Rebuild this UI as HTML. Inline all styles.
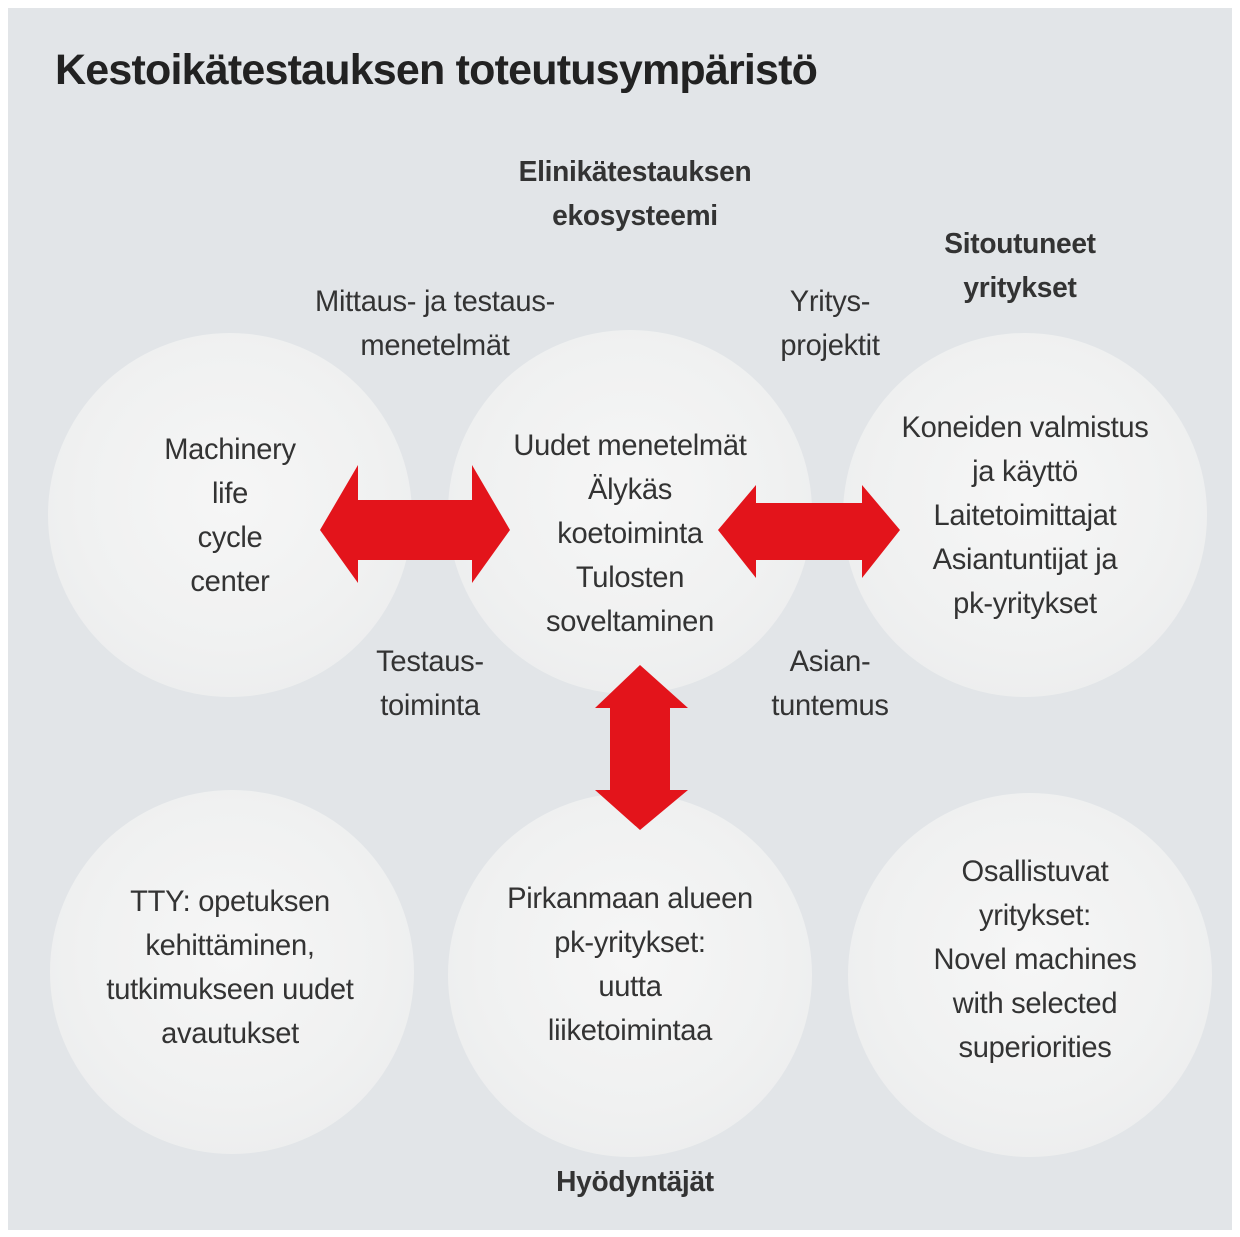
<!DOCTYPE html>
<html><head><meta charset="utf-8"><style>
body{margin:0;width:1240px;height:1237px;background:#fff;overflow:hidden}
#bg{position:absolute;left:8px;top:8px;width:1224px;height:1222px;background:#e2e5e8}
.c{position:absolute;width:364px;height:364px;border-radius:50%;background:radial-gradient(circle at 50% 45%,#f6f6f6 0%,#f0f1f1 55%,#e9eaeb 100%)}
.t{position:absolute;font-family:"Liberation Sans",sans-serif;color:#333;text-align:center;font-size:30px;line-height:44px;transform:scaleX(0.97);white-space:nowrap;letter-spacing:-0.3px}
.b{font-weight:bold;font-size:29px}
</style></head><body>
<div id="bg"></div>
<div class="c" style="left:48px;top:333px"></div>
<div class="c" style="left:448px;top:330px"></div>
<div class="c" style="left:843px;top:333px"></div>
<div class="c" style="left:50px;top:790px"></div>
<div class="c" style="left:448px;top:793px"></div>
<div class="c" style="left:848px;top:793px"></div>
<svg style="position:absolute;left:0;top:0" width="1240" height="1237">
<g fill="#e3141b">
<polygon points="320,530 358,465 358,500 472,500 472,465 510,530 472,583 472,560 358,560 358,583"/>
<polygon points="718,530 756,485 756,503 862,503 862,485 900,530 862,578 862,560 756,560 756,578"/>
<polygon points="640,665 688,708 670,708 670,790 688,790 640,830 595,790 610,790 610,708 595,708"/>
</g></svg>
<div class="t" style="left:55px;top:45px;font-size:43px;line-height:50px;transform-origin:left;transform:scaleX(1.0);color:#222;font-weight:bold;letter-spacing:-0.8px">Kestoikätestauksen toteutusympäristö</div>
<div class="t b" style="left:435px;width:400px;top:150px">Elinikätestauksen<br>ekosysteemi</div>
<div class="t b" style="left:870px;width:300px;top:222px">Sitoutuneet<br>yritykset</div>
<div class="t" style="left:280px;width:310px;top:280px">Mittaus- ja testaus-<br>menetelmät</div>
<div class="t" style="left:730px;width:200px;top:280px">Yritys-<br>projektit</div>
<div class="t" style="left:130px;width:200px;top:428px">Machinery<br>life<br>cycle<br>center</div>
<div class="t" style="left:470px;width:320px;top:424px">Uudet menetelmät<br>Älykäs<br>koetoiminta<br>Tulosten<br>soveltaminen</div>
<div class="t" style="left:870px;width:310px;top:406px">Koneiden valmistus<br>ja käyttö<br>Laitetoimittajat<br>Asiantuntijat ja<br>pk-yritykset</div>
<div class="t" style="left:330px;width:200px;top:640px">Testaus-<br>toiminta</div>
<div class="t" style="left:730px;width:200px;top:640px">Asian-<br>tuntemus</div>
<div class="t" style="left:80px;width:300px;top:880px">TTY: opetuksen<br>kehittäminen,<br>tutkimukseen uudet<br>avautukset</div>
<div class="t" style="left:470px;width:320px;top:877px">Pirkanmaan alueen<br>pk-yritykset:<br>uutta<br>liiketoimintaa</div>
<div class="t" style="left:885px;width:300px;top:850px">Osallistuvat<br>yritykset:<br>Novel machines<br>with selected<br>superiorities</div>
<div class="t b" style="left:485px;width:300px;top:1160px">Hyödyntäjät</div>
</body></html>
